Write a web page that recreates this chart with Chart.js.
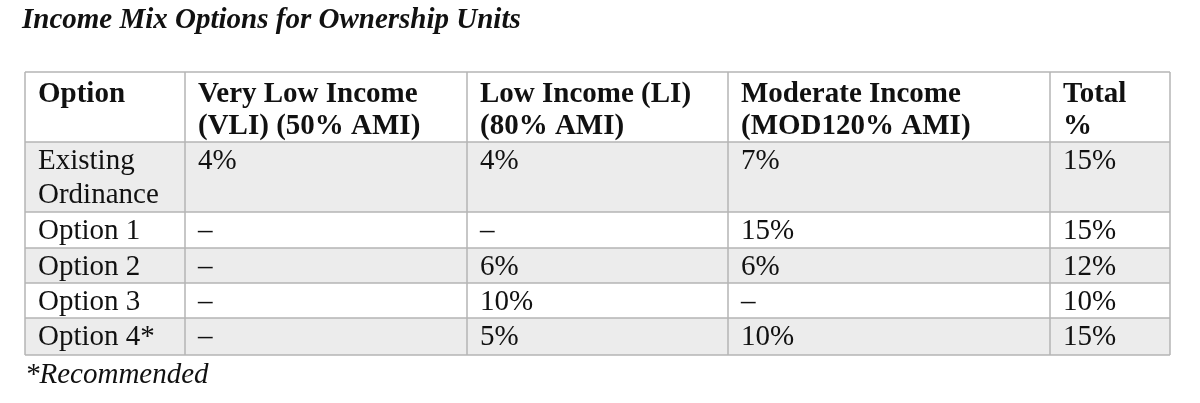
<!DOCTYPE html>
<html><head><meta charset="utf-8">
<script src="https://cdn.jsdelivr.net/npm/chart.js@4"></script>
<style>html,body{margin:0;padding:0;background:#fff}#wrap{width:1200px;height:403px}</style>
</head><body><div id="wrap"><canvas id="tbl"></canvas></div>
<script>
const title = "Income Mix Options for Ownership Units";
const headers = [["Option"], ["Very Low Income", "(VLI) (50% AMI)"], ["Low Income (LI)", "(80% AMI)"], ["Moderate Income", "(MOD120% AMI)"], ["Total", "%"]];
const options = [["Existing", "Ordinance"], ["Option 1"], ["Option 2"], ["Option 3"], ["Option 4*"]];
const vli = ["4%", "–", "–", "–", "–"];
const li = ["4%", "–", "6%", "10%", "5%"];
const mod = ["7%", "15%", "6%", "–", "10%"];
const total = ["15%", "15%", "12%", "10%", "15%"];
const footnote = "*Recommended";

// layout (page units = pixels)
const colEdges = [25, 185, 467, 728, 1050, 1170];
const rowEdges = [72, 142, 212, 248, 283, 318, 355];
const shaded = [true, false, true, false, true];

const tablePlugin = {
  id: 'table',
  afterDraw(chart) {
    const c = chart.ctx, xs = chart.scales.x, ys = chart.scales.y;
    const X = v => xs.getPixelForValue(v), Y = v => ys.getPixelForValue(v);
    c.save();
    c.fillStyle = '#ececec';
    shaded.forEach((s, i) => { if (s) c.fillRect(X(colEdges[0]), Y(rowEdges[i + 1]), X(colEdges[5]) - X(colEdges[0]), Y(rowEdges[i + 2]) - Y(rowEdges[i + 1])); });
    c.strokeStyle = '#b5b5b5'; c.lineWidth = 1.5;
    rowEdges.forEach(r => { c.beginPath(); c.moveTo(X(colEdges[0]), Y(r)); c.lineTo(X(colEdges[5]), Y(r)); c.stroke(); });
    colEdges.forEach(e => { c.beginPath(); c.moveTo(X(e), Y(rowEdges[0])); c.lineTo(X(e), Y(rowEdges[6])); c.stroke(); });
    c.fillStyle = '#111'; c.textBaseline = 'middle';
    c.font = 'bold italic 29px "Liberation Serif"';
    c.fillText(title, X(22), Y(21));
    c.font = 'bold 29px "Liberation Serif"';
    headers.forEach((h, j) => h.forEach((t, k) => c.fillText(t, X(colEdges[j] + 13), Y(95 + k * 32))));
    c.font = '29px "Liberation Serif"';
    const cols = [null, vli, li, mod, total];
    options.forEach((o, i) => {
      const top = rowEdges[i + 1];
      const first = top + 19;
      o.forEach((t, k) => c.fillText(t, X(colEdges[0] + 13), Y(first + k * 34)));
      for (let j = 1; j < 5; j++) c.fillText(cols[j][i], X(colEdges[j] + 13), Y(first));
    });
    c.font = 'italic 29px "Liberation Serif"';
    c.fillText(footnote, X(25), Y(375));
    c.restore();
  }
};

new Chart(document.getElementById('tbl'), {
  type: 'scatter',
  data: { datasets: [{ data: [] }] },
  options: {
    responsive: true, maintainAspectRatio: false, animation: false,
    layout: { padding: 0 },
    plugins: { legend: { display: false }, tooltip: { enabled: false } },
    scales: {
      x: { type: 'linear', min: 0, max: 1200, display: false },
      y: { type: 'linear', min: 0, max: 403, reverse: true, display: false }
    }
  },
  plugins: [tablePlugin]
});
</script></body></html>
